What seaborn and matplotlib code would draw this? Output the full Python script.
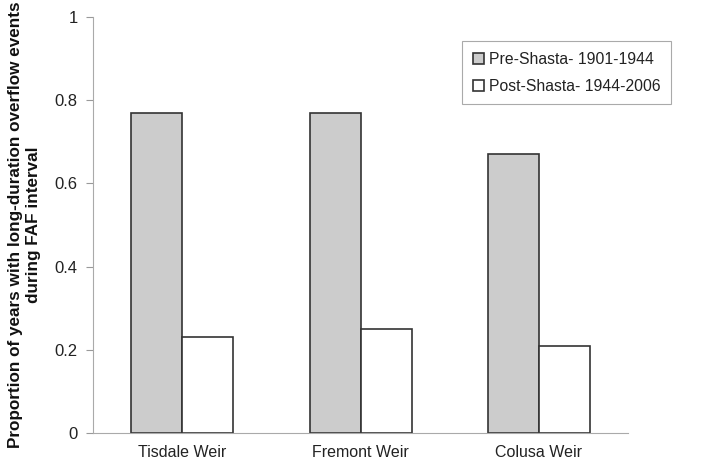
import pandas as pd
import matplotlib.pyplot as plt
import seaborn as sns

# values
weirs = ["Tisdale Weir", "Fremont Weir", "Colusa Weir"]
periods = ["Pre-Shasta- 1901-1944", "Post-Shasta- 1944-2006"]
pre_shasta = [0.77, 0.77, 0.67]
post_shasta = [0.23, 0.25, 0.21]
y_ticks = [0, 0.2, 0.4, 0.6, 0.8, 1]
y_tick_labels = ["0", "0.2", "0.4", "0.6", "0.8", "1"]

df = pd.DataFrame({
    "Weir": weirs * 2,
    "Period": [periods[0]] * 3 + [periods[1]] * 3,
    "Proportion": pre_shasta + post_shasta,
})

sns.set_style("white")
plt.rcParams["font.family"] = ["Liberation Sans", "DejaVu Sans"]

fig = plt.figure(figsize=(7.05, 4.63), dpi=100)
ax = fig.add_axes([0.132, 0.065, 0.759, 0.898])

sns.barplot(data=df, x="Weir", y="Proportion", hue="Period", order=weirs,
            hue_order=periods, palette=["#cccccc", "#ffffff"], width=0.571,
            edgecolor="#333333", linewidth=1.2, saturation=1, ax=ax)

ax.set_xlim(-0.5, 2.5)
ax.set_ylim(0, 1)
ax.set_yticks(y_ticks)
ax.set_yticklabels(y_tick_labels, fontsize=12, color="#222222")
ax.set_xticks([0, 1, 2])
ax.set_xticklabels(weirs, fontsize=11.5, color="#222222")
ax.set_xticks([-0.5, 0.5, 1.5, 2.5], minor=True)
ax.tick_params(axis="x", which="major", length=0, pad=9)
ax.tick_params(axis="x", which="minor", length=5, color="#999999", width=0.8)
ax.tick_params(axis="y", length=5, color="#999999", width=0.8, pad=6, left=True)

for side in ["top", "right"]:
    ax.spines[side].set_visible(False)
for side in ["left", "bottom"]:
    ax.spines[side].set_color("#aaaaaa")
    ax.spines[side].set_linewidth(0.8)

ax.set_xlabel("")
ax.set_ylabel("Proportion of years with long-duration overflow events\nduring FAF interval",
              fontsize=12.3, fontweight="bold", labelpad=10, color="#111111")

leg = ax.legend(loc="upper right", bbox_to_anchor=(0.952, 0.912),
                bbox_transform=fig.transFigure, fontsize=11.3, frameon=True,
                fancybox=False, framealpha=1, edgecolor="#aaaaaa",
                handlelength=0.7, handleheight=0.7, handletextpad=0.3,
                borderpad=0.7, labelspacing=0.75, borderaxespad=0)
leg.get_frame().set_linewidth(0.8)
for t in leg.get_texts():
    t.set_color("#222222")

fig.savefig("out.png", dpi=100)
